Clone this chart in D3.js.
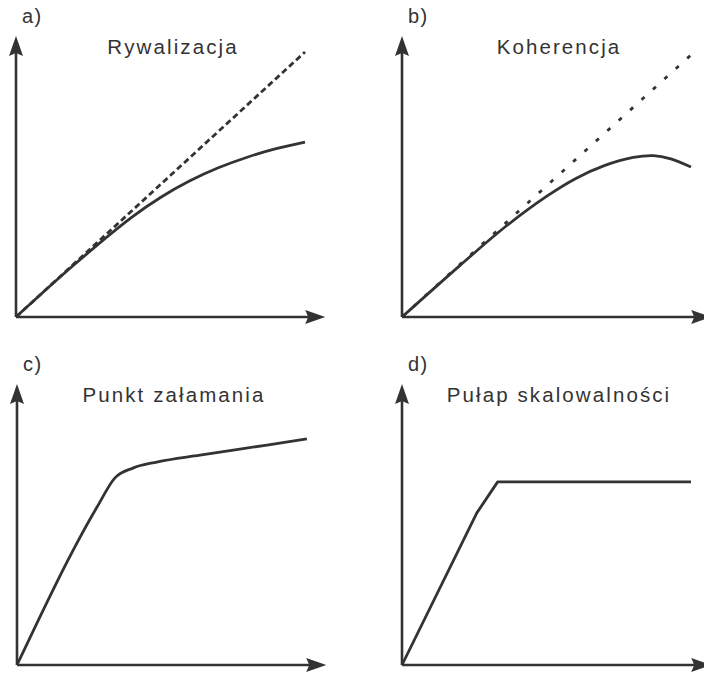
<!DOCTYPE html>
<html>
<head>
<meta charset="utf-8">
<script src="https://cdn.jsdelivr.net/npm/d3@7"></script>
<style>
  body { margin: 0; background: #fff; }
  text { font-family: "Liberation Sans", Arial, sans-serif; fill: #333; }
</style>
</head>
<body>
<div class="svg-target"></div>
<script>
const w = 704;
const h = 675;
const ink = '#333';

// panel names and titles
const labels = ['a)', 'b)', 'c)', 'd)'];
const titles = ['Rywalizacja', 'Koherencja', 'Punkt załamania', 'Pułap skalowalności'];

// values, both axes 0..100
const idealA = [[0, 0], [100, 100]];
const rywalizacja = [[0, 0], [20, 19.6], [40, 37.6], [50, 45.1], [60, 51.3],
    [70, 56.3], [80, 60.3], [90, 63.5], [100, 66]];

const idealB = [[0, 0], [100, 98.9]];
const koherencja = [[0, 0], [20, 19.4], [35, 33.4], [50, 45.5], [60, 52.2],
    [70, 57.1], [80, 60.2], [87, 60.9], [93, 59.7], [100, 56.6]];

const zalamanie = [[0, 0], [27.7, 59.6], [33.9, 70.6], [40.1, 74.3], [48.4, 76.6],
    [63.3, 79.2], [86.5, 83.0], [100.3, 85.3]];

const pulap = [[0, 0], [25.9, 57.4], [33.1, 69.1], [100, 69.1]];

const panels = [
    { origin: [16, 317], ref: idealA, refDash: '6,3.5', line: rywalizacja, curve: d3.curveCatmullRom.alpha(0.5) },
    { origin: [402, 317], ref: idealB, refDash: '4,11.4', line: koherencja, curve: d3.curveCatmullRom.alpha(0.5) },
    { origin: [17, 665], ref: null, line: zalamanie, curve: d3.curveMonotoneX },
    { origin: [402, 665], ref: null, line: pulap, curve: d3.curveLinear }
];

const svg = d3.select('.svg-target')
    .append('svg')
    .attr('width', w)
    .attr('height', h);

// same scales for every panel, drawn relative to its origin
const xScale = d3.scaleLinear().domain([0, 100]).range([0, 289]);
const yScale = d3.scaleLinear().domain([0, 100]).range([0, -265]);

const line = d3.line()
    .x(d => xScale(d[0]))
    .y(d => yScale(d[1]));

panels.forEach((p, i) => {
    const g = svg.append('g')
        .attr('transform', `translate(${p.origin[0]}, ${p.origin[1]})`);

    // axes with arrow heads
    const xEnd = xScale(107);
    const yEnd = yScale(106);
    g.append('line')
        .attr('x1', 0).attr('y1', 0)
        .attr('x2', xEnd - 16).attr('y2', 0)
        .attr('stroke', ink)
        .attr('stroke-width', 2.6);
    g.append('path')
        .attr('d', `M${xEnd},0 L${xEnd - 20},-7 L${xEnd - 17},0 L${xEnd - 20},7 Z`)
        .attr('fill', ink);

    g.append('line')
        .attr('x1', 0).attr('y1', 0)
        .attr('x2', 0).attr('y2', yEnd + 16)
        .attr('stroke', ink)
        .attr('stroke-width', 2.6);
    g.append('path')
        .attr('d', `M0,${yEnd} L-7,${yEnd + 20} L0,${yEnd + 17} L7,${yEnd + 20} Z`)
        .attr('fill', ink);

    // reference (linear) line
    if (p.ref) {
        g.append('path')
            .attr('d', line(p.ref))
            .attr('fill', 'none')
            .attr('stroke', ink)
            .attr('stroke-width', 2.8)
            .attr('stroke-dasharray', p.refDash);
    }

    // measured curve
    g.append('path')
        .attr('d', line.curve(p.curve)(p.line))
        .attr('fill', 'none')
        .attr('stroke', ink)
        .attr('stroke-width', 2.8)
        .attr('stroke-linejoin', 'round');
    line.curve(d3.curveLinear);

    // texts
    g.append('text')
        .attr('x', 6)
        .attr('y', -294)
        .attr('font-size', 20)
        .attr('letter-spacing', 1.5)
        .text(labels[i]);

    g.append('text')
        .attr('x', 157)
        .attr('y', -263)
        .attr('text-anchor', 'middle')
        .attr('font-size', 20.5)
        .attr('letter-spacing', 2.1)
        .text(titles[i]);
});
</script>
</body>
</html>
